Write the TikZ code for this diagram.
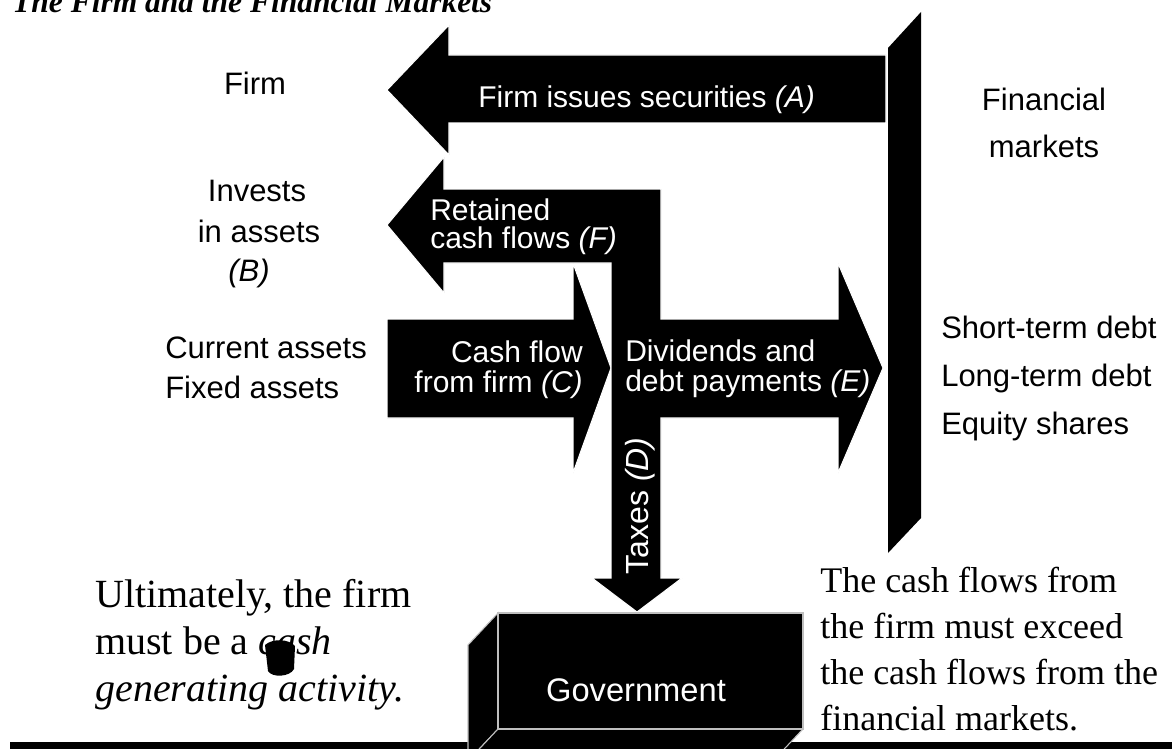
\documentclass[tikz,border=0pt]{standalone}
\usepackage{fontspec}
\setmainfont{Liberation Serif}
\newfontfamily\arialfont{Liberation Sans}

\begin{document}
\begin{tikzpicture}[x=0.75pt,y=-0.75pt,
  lbl/.style={font=\arialfont\fontsize{23.25}{28}\selectfont, inner sep=0},
  wlbl/.style={font=\arialfont\fontsize{22.5}{27}\selectfont, text=white, inner sep=0},
  note/.style={font=\fontsize{30}{36}\selectfont, inner sep=0, anchor=base west},
  rnote/.style={font=\fontsize{27}{33}\selectfont, inner sep=0, anchor=base west},
  blockarrow/.style={fill=black, draw=white, line width=0.8pt, line join=miter},
  boxface/.style={fill=black, draw=black!25, line width=0.8pt, line join=miter}
]
\useasboundingbox (0,0) rectangle (1172,749);
\begin{scope}
\clip (0,0) rectangle (1172,749);

% title
\node[anchor=base west, inner sep=0,
      font=\bfseries\itshape\fontsize{23.6}{28}\selectfont] (title) at (12,13)
  {The Firm and the Financial Markets};

% financial markets column
\fill[black] (888,48) -- (921,12) -- (921,518) -- (888,553) -- cycle;

% (A) firm issues securities
\path[blockarrow] (387,90) -- (449,25) -- (449,55) -- (886,55) -- (886,123)
  -- (449,123) -- (449,155) -- cycle;

% (C) cash flow from firm
\path[blockarrow] (387,319) -- (573,319) -- (573,263) -- (611,368)
  -- (573,473) -- (573,418) -- (387,418) -- cycle;

% (F) retained, stem, (E) payments and (D) taxes as one shape
\path[blockarrow] (387,225) -- (444,157) -- (444,189) -- (661,189)
  -- (661,319) -- (838,319) -- (838,263) -- (883,368) -- (838,473)
  -- (838,418) -- (661,418) -- (661,578) -- (682,578) -- (637,612)
  -- (592,578) -- (611,578) -- (611,263) -- (444,263) -- (444,293) -- cycle;

% base line
\fill[black] (10,742) rectangle (1172,749);

% government block
\path[boxface] (498,613) -- (468,645) -- (468,761) -- (498,729) -- cycle;
\path[boxface] (498,729) -- (468,761) -- (773,761) -- (803,729) -- cycle;
\path[boxface] (498,613) rectangle (803,729);
\node[font=\arialfont\fontsize{24.5}{29}\selectfont, text=white, inner sep=0,
      anchor=base] (gov) at (636,701) {Government};

% labels on the black arrows
\node[wlbl, anchor=base west] (a1) at (478,108) {Firm issues securities \textit{(A)}};
\node[wlbl, anchor=base west] (f1) at (430,220) {Retained};
\node[wlbl, anchor=base west] (f2) at (430,248) {cash flows \textit{(F)}};
\node[wlbl, anchor=base east] (c1) at (583,362) {Cash flow};
\node[wlbl, anchor=base east] (c2) at (583,392) {from firm \textit{(C)}};
\node[wlbl, anchor=base west] (e1) at (625,361) {Dividends and};
\node[wlbl, anchor=base west] (e2) at (625,391) {debt payments \textit{(E)}};
\node[wlbl, font=\arialfont\fontsize{24}{28}\selectfont, rotate=90, anchor=base]
  (d1) at (648,506) {Taxes \textit{(D)}};

% firm side
\node[lbl, anchor=base] (firm) at (255,95) {Firm};
\node[lbl, anchor=base] (inv1) at (257,201) {Invests};
\node[lbl, anchor=base] (inv2) at (259,242) {in assets};
\node[lbl, anchor=base] (inv3) at (249,281) {\textit{(B)}};
\node[lbl, anchor=base west] (ca) at (165,358) {Current assets};
\node[lbl, anchor=base west] (fa) at (165,398) {Fixed assets};

% market side
\node[lbl, anchor=base] (fm1) at (1044,111) {Financial};
\node[lbl, anchor=base] (fm2) at (1044,157) {markets};
\node[lbl, anchor=base west] (std) at (941,338) {Short-term debt};
\node[lbl, anchor=base west] (ltd) at (941,386) {Long-term debt};
\node[lbl, anchor=base west] (eq) at (941,434) {Equity shares};

% closing remarks
\node[note] (u1) at (95,607) {Ultimately, the firm};
\node[note] (u2) at (95,654) {must be a \textit{cash}};
\node[note] (u3) at (95,701) {\textit{generating activity.}};
\fill[black] (265,645) .. controls (273,638) and (289,639) .. (295,646)
  -- (294,669) .. controls (290,677) and (272,678) .. (268,671) -- cycle;

\node[rnote] (r1) at (820,592) {The cash flows from};
\node[rnote] (r2) at (820,638) {the firm must exceed};
\node[rnote] (r3) at (820,684) {the cash flows from the};
\node[rnote] (r4) at (820,730) {financial markets.};
\end{scope}
\end{tikzpicture}
\end{document}
